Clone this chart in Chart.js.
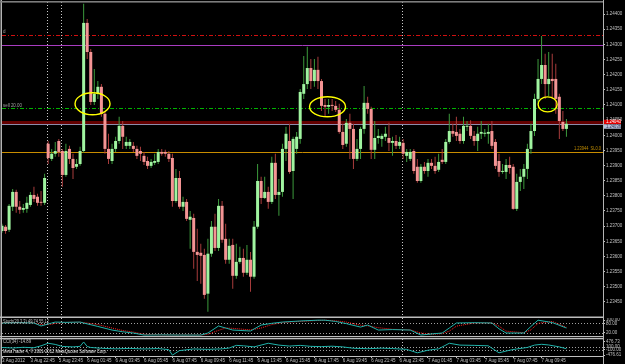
<!DOCTYPE html>
<html lang="en">
<head>
<meta charset="UTF-8">
<title>EURUSD M15</title>
<script src="https://cdn.jsdelivr.net/npm/chart.js"></script>
<style>
  body { margin: 0; background: #000; width: 625px; height: 364px; overflow: hidden; position: relative; }
  canvas { position: absolute; left: 0; }
</style>
</head>
<body>
<canvas id="mainChart" width="625" height="318" style="top:0px"></canvas>
<canvas id="stochChart" width="625" height="20" style="top:318px"></canvas>
<canvas id="cciChart" width="625" height="26" style="top:338px"></canvas>
<script>
// ---- price data (M15 bars) ----
const opens = [
  1.23684,1.23698,1.23688,1.23764,1.23813,1.23764,1.23754,1.23757,1.23770,1.23803,
  1.23797,1.23780,1.23777,1.23972,1.23922,1.23939,1.23981,1.23948,1.23869,1.23955,
  1.23922,1.23896,1.23905,1.23948,1.24371,1.24275,1.24110,1.24137,1.24160,1.24071,
  1.23955,1.23915,1.23955,1.23981,1.24031,1.23965,1.23965,1.23965,1.23955,1.23948,
  1.23932,1.23915,1.23899,1.23909,1.23912,1.23945,1.23945,1.23939,1.23925,1.23783,
  1.23859,1.23764,1.23780,1.23721,1.23727,1.23615,1.23612,1.23605,1.23477,1.23609,
  1.23698,1.23628,1.23767,1.23658,1.23589,1.23638,1.23536,1.23582,1.23595,1.23546,
  1.23589,1.23533,1.23698,1.23849,1.23793,1.23813,1.23780,1.23909,1.23803,1.23813,
  1.23955,1.23981,1.23882,1.23955,1.23988,1.24137,1.24169,1.24222,1.24179,1.24216,
  1.24179,1.24100,1.24094,1.24100,1.24097,1.24084,1.24011,1.23972,1.24041,1.24021,
  1.23922,1.23955,1.24021,1.24107,1.24087,1.23952,1.23991,1.23988,1.23995,1.23991,
  1.23975,1.23981,1.23965,1.23975,1.23932,1.23922,1.23948,1.23896,1.23849,1.23896,
  1.23882,1.23909,1.23899,1.23886,1.23919,1.23912,1.23978,1.24014,1.24011,1.24005,
  1.23981,1.24028,1.24031,1.23998,1.23981,1.24005,1.24005,1.24005,1.24014,1.23978,
  1.23915,1.23879,1.23879,1.23902,1.23896,1.23757,1.23846,1.23863,1.23889,1.23955,
  1.24014,1.24120,1.24186,1.24232,1.24169,1.24186,1.24186,1.24127,1.24044,1.24021
];
const highs = [
  1.23708,1.23704,1.23773,1.23823,1.23820,1.23783,1.23773,1.23797,1.23813,1.23830,
  1.23807,1.23816,1.23873,1.23981,1.23955,1.23978,1.23988,1.23955,1.23972,1.23965,
  1.23939,1.23922,1.23962,1.24434,1.24384,1.24285,1.24219,1.24179,1.24169,1.24080,
  1.24005,1.23972,1.23995,1.24061,1.24047,1.23995,1.23988,1.23978,1.23965,1.23962,
  1.23945,1.23929,1.23922,1.23939,1.23955,1.23955,1.23952,1.23948,1.23939,1.23889,
  1.23882,1.23797,1.23790,1.23750,1.23741,1.23691,1.23642,1.23625,1.23658,1.23717,
  1.23741,1.23790,1.23783,1.23708,1.23658,1.23658,1.23642,1.23632,1.23625,1.23638,
  1.23615,1.23717,1.23905,1.23863,1.23863,1.23830,1.23929,1.23939,1.23856,1.23972,
  1.24028,1.24038,1.23995,1.24011,1.24153,1.24262,1.24292,1.24252,1.24252,1.24259,
  1.24186,1.24120,1.24120,1.24120,1.24113,1.24104,1.24038,1.24054,1.24071,1.24038,
  1.23988,1.24028,1.24163,1.24127,1.24094,1.24047,1.24021,1.24005,1.24028,1.24041,
  1.23995,1.24001,1.23995,1.23988,1.23955,1.23955,1.23955,1.23922,1.23905,1.23912,
  1.23922,1.23922,1.23929,1.23939,1.23955,1.23988,1.24071,1.24038,1.24061,1.24021,
  1.24061,1.24047,1.24050,1.24014,1.24028,1.24047,1.24021,1.24038,1.24047,1.23988,
  1.23939,1.23905,1.23922,1.23929,1.23905,1.23873,1.23889,1.23905,1.23972,1.24038,
  1.24137,1.24252,1.24328,1.24269,1.24275,1.24269,1.24236,1.24137,1.24080,1.24054
];
const lows = [
  1.23678,1.23675,1.23681,1.23750,1.23744,1.23741,1.23744,1.23744,1.23764,1.23780,
  1.23767,1.23767,1.23770,1.23905,1.23915,1.23929,1.23929,1.23830,1.23863,1.23905,
  1.23856,1.23889,1.23899,1.23942,1.24252,1.24100,1.24100,1.24120,1.24061,1.23939,
  1.23905,1.23905,1.23945,1.23972,1.23955,1.23955,1.23955,1.23945,1.23922,1.23915,
  1.23902,1.23889,1.23892,1.23902,1.23905,1.23932,1.23929,1.23912,1.23764,1.23777,
  1.23757,1.23750,1.23717,1.23625,1.23559,1.23519,1.23510,1.23460,1.23417,1.23599,
  1.23618,1.23618,1.23645,1.23576,1.23576,1.23493,1.23526,1.23576,1.23533,1.23539,
  1.23483,1.23526,1.23691,1.23773,1.23790,1.23757,1.23773,1.23790,1.23734,1.23797,
  1.23915,1.23873,1.23790,1.23939,1.23972,1.24120,1.24153,1.24153,1.24160,1.24153,
  1.24080,1.24061,1.24071,1.24080,1.24077,1.24005,1.23955,1.23962,1.23922,1.23889,
  1.23915,1.23922,1.24005,1.24071,1.23922,1.23922,1.23972,1.23962,1.23981,1.23948,
  1.23932,1.23955,1.23955,1.23922,1.23912,1.23915,1.23873,1.23843,1.23843,1.23873,
  1.23863,1.23889,1.23873,1.23879,1.23905,1.23905,1.23972,1.23995,1.23981,1.23972,
  1.23972,1.24014,1.23988,1.23965,1.23948,1.23988,1.23995,1.23972,1.23955,1.23889,
  1.23863,1.23873,1.23856,1.23873,1.23754,1.23750,1.23816,1.23823,1.23856,1.23939,
  1.23998,1.24104,1.24169,1.24120,1.24130,1.24120,1.24071,1.23988,1.24014,1.23995
];
const closes = [
  1.23701,1.23684,1.23767,1.23813,1.23764,1.23754,1.23760,1.23777,1.23803,1.23790,
  1.23777,1.23777,1.23859,1.23925,1.23939,1.23948,1.23945,1.23869,1.23948,1.23922,
  1.23892,1.23905,1.23948,1.24371,1.24275,1.24110,1.24137,1.24160,1.24071,1.23955,
  1.23922,1.23955,1.23981,1.24031,1.23995,1.23978,1.23978,1.23955,1.23932,1.23939,
  1.23912,1.23899,1.23912,1.23915,1.23945,1.23939,1.23939,1.23922,1.23783,1.23859,
  1.23764,1.23780,1.23724,1.23731,1.23615,1.23605,1.23602,1.23473,1.23609,1.23698,
  1.23628,1.23767,1.23655,1.23589,1.23635,1.23536,1.23582,1.23595,1.23546,1.23589,
  1.23533,1.23698,1.23849,1.23793,1.23813,1.23780,1.23909,1.23803,1.23813,1.23955,
  1.24005,1.23879,1.23988,1.23995,1.24143,1.24169,1.24222,1.24179,1.24216,1.24179,
  1.24097,1.24094,1.24100,1.24097,1.24084,1.24011,1.23968,1.24041,1.24021,1.23922,
  1.23955,1.24021,1.24107,1.24087,1.23952,1.23991,1.23998,1.23998,1.24005,1.23975,
  1.23981,1.23965,1.23978,1.23939,1.23945,1.23945,1.23882,1.23849,1.23896,1.23882,
  1.23909,1.23899,1.23882,1.23912,1.23912,1.23978,1.24014,1.24005,1.23998,1.23981,
  1.24031,1.24031,1.23998,1.23981,1.24005,1.24011,1.24008,1.24011,1.23965,1.23899,
  1.23879,1.23882,1.23902,1.23892,1.23757,1.23846,1.23863,1.23889,1.23955,1.24014,
  1.24120,1.24186,1.24232,1.24169,1.24186,1.24179,1.24120,1.24047,1.24021,1.24038
];

// axis ticks and labels
const priceTicks = [1.2345,1.2350,1.2355,1.2360,1.2365,1.2370,1.2375,1.2380,1.2385,1.2390,
                    1.2395,1.2400,1.2405,1.2410,1.2415,1.2420,1.2425,1.2430,1.2435,1.2440];
const timeTickBars = [0,8,16,24,32,40,48,56,64,72,80,88,96,104,112,120,128,136,144,152];
const timeLabels = ['3 Aug 2012','3 Aug 22:45','5 Aug 23:45','6 Aug 01:45','6 Aug 03:45','6 Aug 05:45',
  '6 Aug 07:45','6 Aug 09:45','6 Aug 11:45','6 Aug 13:45','6 Aug 15:45','6 Aug 17:45','6 Aug 19:45',
  '6 Aug 21:45','6 Aug 23:45','7 Aug 01:45','7 Aug 03:45','7 Aug 05:45','7 Aug 07:45','7 Aug 09:45'];
const separatorBars = [13, 17, 113];

// horizontal objects on the price chart
const levelPrices = [1.24331, 1.24298, 1.24090, 1.24043, 1.24036, 1.23944];
const bidPrice = 1.24043;
const askPrice = 1.24036;
// yellow ellipse marks (bar index, price)
const markBars = [25.5, 91.7, 153.7];
const markPrices = [1.24104, 1.24094, 1.24102];

// Stoch(20,3,3)
const stochBars = [0,5,9,11,14,15,18,22,23,27,31,34,37,40,45,50,56,58,61,63,65,70,73,76,79,84,89,91,94,97,
                   101,103,106,110,115,118,121,124,126,128,133,138,140,142,147,149,151,155,159];
const stochMain = [82,84,82,63,82,88,86,88,82,60,37,26,18,5,6,5,5,18,63,50,37,31,69,80,88,95,100,100,92,78,
                   56,69,37,40,37,5,12,18,50,82,84,82,45,18,18,60,100,85,50];
const stochSignal = [84,84,83,72,74,80,86,87,85,72,50,34,24,10,6,5,5,10,35,50,48,38,50,72,85,92,98,100,96,88,
                     68,64,52,42,38,18,10,14,30,62,82,83,62,30,20,38,80,92,55];
const stochTicks = [100, 80, 20];

// CCI
const cciBars = [0,3,6,9,11,13,15,17,20,22,23,24,25,28,32,36,40,44,47,48,50,54,58,62,64,66,68,71,75,78,
                 81,84,87,90,93,96,99,103,107,110,114,117,120,123,126,129,133,137,140,143,145,148,150,152,154,157,159];
const cciValues = [77,40,90,60,200,385,300,154,120,160,476.73,150,77,20,-20,10,-30,0,-80,-476.61,
                   -150,-30,-60,-20,40,230,200,120,385,250,180,230,160,140,170,120,20,-10,30,0,
                   -60,-308,-120,-20,385,250,230,200,-308,-120,-30,80,250,308,260,120,-14.89];
const cciTicks = [476.73, 100, -100, -476.61];

// ---- styles ----
const FONT = '"Liberation Sans", "DejaVu Sans", sans-serif';
const TINY = 4.5;
const axisGray = '#c0c0c0';
const levelStyles = [
  { color: '#d01010', width: 1, dash: [4, 2, 1, 2] },
  { color: '#a83cc0', width: 1, dash: [] },
  { color: '#00b400', width: 1, dash: [4, 2, 1, 2] },
  { color: '#640000', width: 3, dash: [] },
  { color: '#8c8cac', width: 1, dash: [] },
  { color: '#c88c00', width: 1, dash: [] }
];
const ellipseRadii = [[17.5, 11], [18, 10], [9.5, 7.5]];

Chart.defaults.font.family = FONT;

const X_MAX = 169.3; // 601 px of plot at ~3.55 px per bar
const xHidden = { type: 'linear', min: 0, max: X_MAX, display: false, offset: false };

function rightAxis(min, max, ticks, fmt) {
  return {
    position: 'right', min: min, max: max,
    afterFit: s => { s.width = 22; s.paddingTop = 0; s.paddingBottom = 0; },
    afterBuildTicks: s => { s.ticks = ticks.map(v => ({ value: v })); },
    ticks: { color: axisGray, font: { size: TINY }, padding: 1, autoSkip: false, callback: fmt },
    grid: { drawOnChartArea: false, color: axisGray, tickLength: 2 },
    border: { color: axisGray }
  };
}

function drawSeparators(chart) {
  const { ctx, chartArea: a, scales: { x } } = chart;
  ctx.save();
  ctx.strokeStyle = '#c8c8c8';
  ctx.lineWidth = 1;
  ctx.setLineDash([1, 2]);
  separatorBars.forEach(b => {
    const px = Math.round(x.getPixelForValue(b)) - 0.5;
    ctx.beginPath(); ctx.moveTo(px, a.top); ctx.lineTo(px, a.bottom); ctx.stroke();
  });
  ctx.restore();
}

function dottedLevels(chart, values) {
  const { ctx, chartArea: a, scales: { y } } = chart;
  ctx.save();
  ctx.strokeStyle = '#a0a0a0';
  ctx.lineWidth = 1;
  ctx.setLineDash([1, 2]);
  values.forEach(v => {
    const py = Math.round(y.getPixelForValue(v)) + 0.5;
    ctx.beginPath(); ctx.moveTo(a.left, py); ctx.lineTo(a.right, py); ctx.stroke();
  });
  ctx.restore();
}

function frame(chart, topLine) {
  const { ctx, chartArea: a, height } = chart;
  ctx.save();
  ctx.fillStyle = '#b4b4b4';
  ctx.fillRect(0.5, 0, 1.5, height);        // left edge
  ctx.fillRect(a.right, 0, 1, height);       // axis line through gaps
  if (topLine) { ctx.fillStyle = '#bdbdbd'; ctx.fillRect(0, 0, a.right, 1.3); }
  ctx.restore();
}

function tinyText(ctx, txt, x, y, color, maxW, align) {
  ctx.font = TINY + 'px ' + FONT;
  ctx.fillStyle = color;
  ctx.textAlign = align || 'left';
  ctx.textBaseline = 'middle';
  if (maxW) ctx.fillText(txt, x, y, maxW); else ctx.fillText(txt, x, y);
}

// ---- main price chart ----
const wickData = highs.map((h, i) => ({ x: i, y: [lows[i], h] }));
const bodyData = opens.map((o, i) => ({ x: i, y: [Math.min(o, closes[i]), Math.max(o, closes[i])] }));
const bodyColors = opens.map((o, i) => closes[i] >= o ? '#a0f4a0' : '#f49494');
const wickColors = opens.map((o, i) => closes[i] >= o ? '#3c9a3c' : '#a83c3c');

const mainDecor = {
  id: 'mainDecor',
  beforeDatasetsDraw(chart) {
    const { ctx, chartArea: a, scales: { y } } = chart;
    drawSeparators(chart);
    ctx.save();
    levelPrices.forEach((p, k) => {
      const st = levelStyles[k];
      const py = Math.round(y.getPixelForValue(p)) + (st.width % 2 ? 0.5 : 0);
      ctx.strokeStyle = st.color;
      ctx.lineWidth = st.width;
      ctx.setLineDash(st.dash);
      ctx.beginPath(); ctx.moveTo(a.left, py); ctx.lineTo(a.right, py); ctx.stroke();
    });
    ctx.restore();
  },
  afterDatasetsDraw(chart) {
    const { ctx, scales: { x, y } } = chart;
    ctx.save();
    ctx.strokeStyle = '#ffff00';
    ctx.lineWidth = 1.4;
    markBars.forEach((b, k) => {
      ctx.beginPath();
      ctx.ellipse(x.getPixelForValue(b), y.getPixelForValue(markPrices[k]),
                  ellipseRadii[k][0], ellipseRadii[k][1], 0, 0, Math.PI * 2);
      ctx.stroke();
    });
    ctx.restore();
  },
  afterDraw(chart) {
    const { ctx, chartArea: a, scales: { y } } = chart;
    frame(chart, false);
    ctx.save();
    ctx.fillStyle = '#7c7c7c';
    ctx.fillRect(0, 1, a.right, 1.6);            // top border
    ctx.fillStyle = '#bdbdbd';
    ctx.fillRect(0, a.bottom - 0.5, a.right, 1.5); // panel separator
    tinyText(ctx, 'd', 3, y.getPixelForValue(levelPrices[0]) - 3, '#a0a0a0');
    tinyText(ctx, 'sell 20.00', 3, y.getPixelForValue(levelPrices[2]) - 2, '#a0a0a0', 19);
    tinyText(ctx, '1.23944  SL0.0', a.right - 2, y.getPixelForValue(levelPrices[5]) - 3, '#c08c00', 27, 'right');
    // bid / ask boxes on the price axis
    const by = y.getPixelForValue(bidPrice);
    ctx.fillStyle = '#e00000';
    ctx.fillRect(a.right + 1, by - 2.5, 17, 4.5);
    tinyText(ctx, bidPrice.toFixed(5), a.right + 3, by - 0.2, '#ffffff', 15);
    ctx.fillStyle = '#b4c0d8';
    ctx.fillRect(a.right + 1, by + 2, 17, 4.5);
    tinyText(ctx, askPrice.toFixed(5), a.right + 3, by + 4.3, '#303050', 15);
    ctx.restore();
  }
};

new Chart(document.getElementById('mainChart'), {
  type: 'bar',
  data: {
    datasets: [
      { data: bodyData, backgroundColor: bodyColors, barThickness: 3, grouped: false,
        minBarLength: 1, inflateAmount: 0, order: 0 },
      { data: wickData, backgroundColor: wickColors, barThickness: 1, grouped: false,
        inflateAmount: 0, order: 1 }
    ]
  },
  options: {
    responsive: false,
    animation: false,
    devicePixelRatio: 1,
    layout: { padding: { left: 2, top: 2, right: 0, bottom: 1 } },
    plugins: { legend: { display: false }, tooltip: { enabled: false } },
    scales: {
      x: xHidden,
      y: rightAxis(1.2340, 1.2444, priceTicks, v => v.toFixed(5))
    }
  },
  plugins: [mainDecor]
});

// ---- Stochastic panel ----
const stochDecor = {
  id: 'stochDecor',
  beforeDatasetsDraw(chart) {
    drawSeparators(chart);
    dottedLevels(chart, [80, 20]);
  },
  afterDraw(chart) {
    const { ctx, chartArea: a } = chart;
    frame(chart, false);
    ctx.save();
    ctx.fillStyle = '#bdbdbd';
    ctx.fillRect(0, a.bottom, a.right, 1.2);
    tinyText(ctx, 'Stoch(20,3,3) 49.74 55.12', 3, 3.5, '#c0c0c0', 46);
    ctx.restore();
  }
};

new Chart(document.getElementById('stochChart'), {
  type: 'line',
  data: {
    datasets: [
      { data: stochBars.map((b, i) => ({ x: b, y: stochMain[i] })), borderColor: '#20b2aa',
        borderWidth: 1, pointRadius: 0, tension: 0 },
      { data: stochBars.map((b, i) => ({ x: b, y: stochSignal[i] })), borderColor: '#ff2020',
        borderWidth: 1, borderDash: [1, 1], pointRadius: 0, tension: 0 }
    ]
  },
  options: {
    responsive: false,
    animation: false,
    devicePixelRatio: 1,
    layout: { padding: { left: 2, top: 0, right: 0, bottom: 2 } },
    plugins: { legend: { display: false }, tooltip: { enabled: false } },
    scales: {
      x: xHidden,
      y: rightAxis(-1, 114, stochTicks, v => v.toFixed(2))
    }
  },
  plugins: [stochDecor]
});

// ---- CCI panel with the time axis ----
const cciDecor = {
  id: 'cciDecor',
  beforeDatasetsDraw(chart) {
    drawSeparators(chart);
    dottedLevels(chart, [100, -100]);
  },
  afterDraw(chart) {
    const { ctx } = chart;
    frame(chart, true);
    ctx.save();
    tinyText(ctx, 'CCI(34) -14.89', 3, 4, '#c0c0c0', 28);
    tinyText(ctx, 'MetaTrader 4, \u00a9 2001-2012 MetaQuotes Software Corp.', 3, 13.5, '#e8e8e8', 104);
    ctx.restore();
  }
};

new Chart(document.getElementById('cciChart'), {
  type: 'line',
  data: {
    datasets: [
      { data: cciBars.map((b, i) => ({ x: b, y: cciValues[i] })), borderColor: '#20b2aa',
        borderWidth: 1, pointRadius: 0, tension: 0 }
    ]
  },
  options: {
    responsive: false,
    animation: false,
    devicePixelRatio: 1,
    layout: { padding: { left: 2, top: 1, right: 0, bottom: 0 } },
    plugins: { legend: { display: false }, tooltip: { enabled: false } },
    scales: {
      x: {
        type: 'linear', min: 0, max: X_MAX, offset: false,
        afterFit: s => { s.height = 8; s.paddingLeft = 0; s.paddingRight = 0; },
        afterBuildTicks: s => { s.ticks = timeTickBars.map(v => ({ value: v })); },
        ticks: { color: axisGray, font: { size: TINY }, padding: 0, align: 'start', autoSkip: false,
                 maxRotation: 0, callback: (v, i) => timeLabels[i] },
        grid: { drawOnChartArea: false, color: axisGray, tickLength: 2 },
        border: { color: axisGray }
      },
      y: rightAxis(-540, 693, cciTicks, v => v.toFixed(2))
    }
  },
  plugins: [cciDecor]
});
</script>
</body>
</html>
